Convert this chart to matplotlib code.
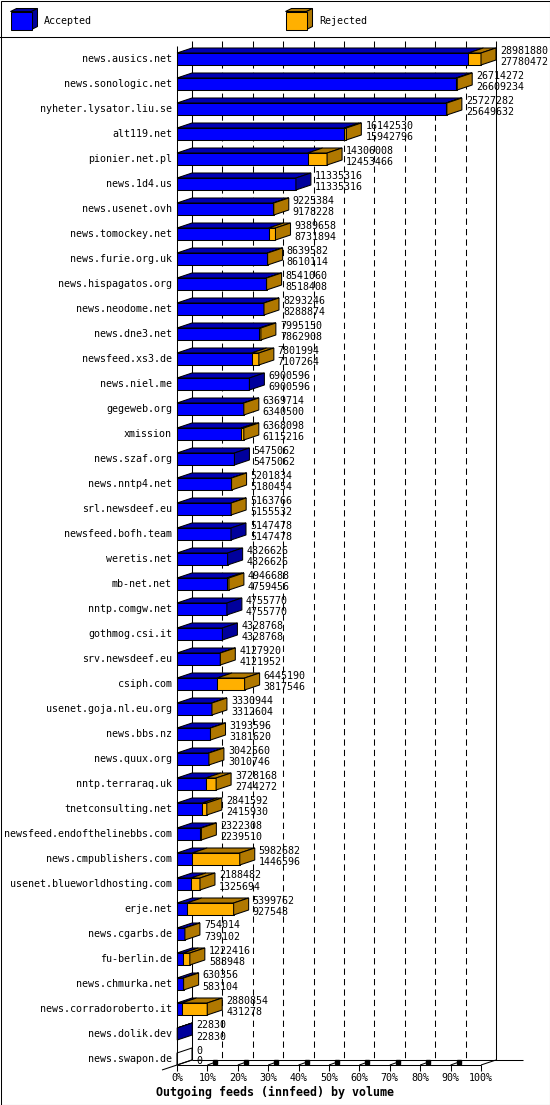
import numpy as np
import matplotlib.pyplot as plt
from matplotlib.patches import Polygon, Rectangle

# innfeed outgoing feeds, sorted by accepted volume
hosts = [
    "news.ausics.net", "news.sonologic.net", "nyheter.lysator.liu.se",
    "alt119.net", "pionier.net.pl", "news.1d4.us", "news.usenet.ovh",
    "news.tomockey.net", "news.furie.org.uk", "news.hispagatos.org",
    "news.neodome.net", "news.dne3.net", "newsfeed.xs3.de", "news.niel.me",
    "gegeweb.org", "xmission", "news.szaf.org", "news.nntp4.net",
    "srl.newsdeef.eu", "newsfeed.bofh.team", "weretis.net", "mb-net.net",
    "nntp.comgw.net", "gothmog.csi.it", "srv.newsdeef.eu", "csiph.com",
    "usenet.goja.nl.eu.org", "news.bbs.nz", "news.quux.org",
    "nntp.terraraq.uk", "tnetconsulting.net", "newsfeed.endofthelinebbs.com",
    "news.cmpublishers.com", "usenet.blueworldhosting.com", "erje.net",
    "news.cgarbs.de", "fu-berlin.de", "news.chmurka.net",
    "news.corradoroberto.it", "news.dolik.dev", "news.swapon.de",
]
offered = [
    28981880, 26714272, 25727282, 16142530, 14306008, 11335316, 9225384,
    9389658, 8639582, 8541060, 8293246, 7995150, 7801994, 6900596,
    6369714, 6368098, 5475062, 5201834, 5163766, 5147478, 4826626,
    4946688, 4755770, 4328768, 4127920, 6445190, 3330944, 3193596,
    3042560, 3728168, 2841592, 2322308, 5982682, 2188482, 5399762,
    754014, 1222416, 630356, 2880854, 22830, 0,
]
accepted = [
    27780472, 26609234, 25649632, 15942796, 12453466, 11335316, 9178228,
    8731894, 8610114, 8518408, 8288874, 7862908, 7107264, 6900596,
    6340500, 6115216, 5475062, 5180454, 5155532, 5147478, 4826626,
    4759456, 4755770, 4328768, 4121952, 3817546, 3312604, 3181620,
    3010746, 2744272, 2415930, 2239510, 1446596, 1325694, 927548,
    739102, 588948, 583104, 431278, 22830, 0,
]
pct_ticks = list(range(0, 101, 10))

off = np.array(offered, dtype=float)
acc = np.array(accepted, dtype=float)
scale = 100.0 / off.max()
acc_pct = acc * scale
tot_pct = off * scale

BLUE, BLUE_TOP, BLUE_SIDE = "#0000ff", "#0000b4", "#00009c"
ORANGE, BROWN = "#ffb000", "#b07800"
LW = 0.75

plt.rcParams["font.family"] = ["DejaVu Sans Mono"]
plt.rcParams["font.size"] = 7.2

W, H = 550, 1105
fig = plt.figure(figsize=(W / 100, H / 100), dpi=100)

# the axes is the front plane of the pseudo-3d chart
left, right, top, bottom = 177, 481, 46, 1065
first_row, row_px = 59, 25
ax = fig.add_axes([left / W, 1 - bottom / H, (right - left) / W, (bottom - top) / H])
ax.set_xlim(0, 100)
y_floor = (bottom - first_row) / row_px
y_top = (top - first_row) / row_px
ax.set_ylim(y_floor, y_top)
ax.axis("off")

ux = 100.0 / (right - left)   # data units per pixel, x
uy = 1.0 / row_px             # data units per pixel, y
dx, dy = 15 * ux, 5 * uy      # depth of the 3d effect


def line(xs, ys, **kw):
    kw.setdefault("color", "black")
    kw.setdefault("lw", LW)
    ax.plot(xs, ys, clip_on=False, solid_capstyle="butt", **kw)


def face(pts, color, z=3):
    ax.add_patch(Polygon(pts, closed=True, facecolor=color, edgecolor="black",
                         lw=LW, clip_on=False, zorder=z, joinstyle="miter"))


# back wall, grid and floor
line([dx, dx], [y_top - dy, y_floor - dy], zorder=1)
line([100 + dx, 100 + dx], [y_top - dy, y_floor - dy], zorder=1)
for k in pct_ticks[1:-1]:
    line([k + dx, k + dx], [y_top - dy, y_floor - dy], ls=(0, (6, 4)), zorder=1)
line([0, 0], [y_top, y_floor], zorder=4)
line([0, 100], [y_floor, y_floor], zorder=4)
line([dx, 100 + dx + 27 * ux], [y_floor - dy, y_floor - dy], zorder=1)
line([-dx, dx], [y_floor + dy, y_floor - dy], zorder=4)
line([100, 100 + dx], [y_floor, y_floor - dy], zorder=4)

for k in pct_ticks:
    line([k, k], [y_floor, y_floor + 6 * uy], zorder=4)
    ax.text(k, y_floor + 13 * uy, f"{k}%", ha="center", va="center")
    if 0 < k < 100:
        line([k, k + 10 * ux], [y_floor, y_floor - 3.5 * uy], zorder=4)
        ax.plot([k + 8 * ux], [y_floor - 3 * uy], "s", ms=2.2, color="black",
                clip_on=False, zorder=4)

# bars
h = 6 * uy
for i, host in enumerate(hosts):
    a, t = acc_pct[i], tot_pct[i]
    yt, yb = i - h, i + h
    if a > 0:
        face([(0, yb), (a, yb), (a, yt), (0, yt)], BLUE)
        face([(0, yt), (a, yt), (a + dx, yt - dy), (dx, yt - dy)], BLUE_TOP)
    if t > a:
        face([(a, yb), (t, yb), (t, yt), (a, yt)], ORANGE)
        face([(a, yt), (t, yt), (t + dx, yt - dy), (a + dx, yt - dy)], BROWN)
    side = BROWN if t > a else (BLUE_SIDE if t > 0 else "white")
    face([(t, yt), (t, yb), (t + dx, yb - dy), (t + dx, yt - dy)], side)

    ax.text(-5 * ux, i, host, ha="right", va="center")
    ax.text(t + dx + 4 * ux, i - 8.5 * uy, f"{offered[i]}", ha="left", va="center")
    ax.text(t + dx + 4 * ux, i + 2.5 * uy, f"{accepted[i]}", ha="left", va="center")

fig.text(156 / W, 1 - 1092 / H, "Outgoing feeds (innfeed) by volume",
         fontsize=8.4, fontweight="bold", ha="left", va="center")


# legend and frame, in figure pixels
def fpx(x, y):
    return (x / W, 1 - y / H)


def cube(x0, front, side):
    x1, y0, y1, d, e = x0 + 21, 11.5, 29.5, 6, 3
    for pts, c in [([(x0, y0), (x1, y0), (x1 + d, y0 - e), (x0 + d, y0 - e)], side),
                   ([(x1, y0), (x1, y1), (x1 + d, y1 - e), (x1 + d, y0 - e)], side),
                   ([(x0, y0), (x1, y0), (x1, y1), (x0, y1)], front)]:
        fig.add_artist(Polygon([fpx(*p) for p in pts], closed=True, facecolor=c,
                               edgecolor="black", lw=LW, transform=fig.transFigure))


cube(10.5, BLUE, BLUE_SIDE)
cube(285.5, ORANGE, BROWN)
fig.text(*fpx(44, 20.5), "Accepted", ha="left", va="center")
fig.text(*fpx(319, 20.5), "Rejected", ha="left", va="center")

fig.add_artist(plt.Line2D([0, 1], [1 - 36.5 / H] * 2, color="black", lw=LW,
                          transform=fig.transFigure))
fig.add_artist(Rectangle((0.5 / W, 0.5 / H), 1 - 1 / W, 1 - 1 / H, fill=False,
                         edgecolor="black", lw=LW, transform=fig.transFigure))

fig.savefig("out.png", dpi=100, facecolor="white")
